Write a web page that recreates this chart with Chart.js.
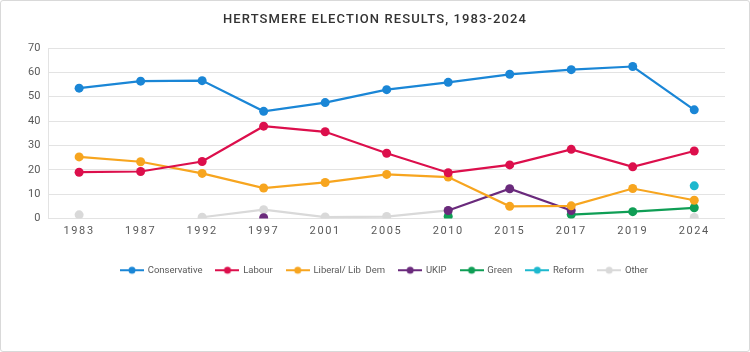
<!DOCTYPE html>
<html>
<head>
<meta charset="utf-8">
<script src="https://cdn.jsdelivr.net/npm/chart.js@4"></script>
<style>
html, body { margin: 0; padding: 0; background: #fff; }
#wrap { position: relative; width: 750px; height: 352px; box-sizing: border-box; border: 1px solid #d9d9d9; border-radius: 3px; }
#title { position: absolute; top: 10px; left: 0; right: 0; text-align: center; font: 500 13px Roboto, sans-serif; letter-spacing: 1.1px; color: #333; }
#box { position: absolute; left: 0; top: 0; right: 0; bottom: 0; }
</style>
</head>
<body>
<div id="wrap">
  <div id="box"><canvas id="chart"></canvas></div>
  <div id="title">HERTSMERE ELECTION RESULTS, 1983-2024</div>
</div>
<script>
// data (vote share, %)
const years = ["1983", "1987", "1992", "1997", "2001", "2005", "2010", "2015", "2017", "2019", "2024"];
const conservative = [53.5, 56.4, 56.6, 44.0, 47.6, 52.9, 55.9, 59.2, 61.1, 62.4, 44.6];
const labour = [19.0, 19.3, 23.4, 37.9, 35.6, 26.8, 18.8, 22.0, 28.4, 21.2, 27.7];
const libDem = [25.3, 23.3, 18.5, 12.5, 14.8, 18.1, 17.0, 5.0, 5.2, 12.3, 7.5];
const ukip = [null, null, null, 0.3, null, null, 3.3, 12.2, 3.3, null, null];
const green = [null, null, null, null, null, null, 0.8, null, 1.6, 2.8, 4.4];
const reform = [null, null, null, null, null, null, null, null, null, null, 13.4];
const other = [1.5, null, 0.5, 3.6, 0.6, 0.8, 3.3, null, null, null, 0.4];
const yTicks = [0, 10, 20, 30, 40, 50, 60, 70];

// x axis labels in the picture are letter spaced
class SpacedCategory extends Chart.CategoryScale {
    drawLabels(area) {
        this.ctx.save();
        this.ctx.letterSpacing = "1.6px";
        super.drawLabels(area);
        this.ctx.restore();
    }
}
SpacedCategory.id = "spacedCategory";
SpacedCategory.defaults = Chart.CategoryScale.defaults;
Chart.register(SpacedCategory);

// small line + dot marker for the legend
function legendMarker(color) {
    const c = document.createElement("canvas");
    c.width = 24; c.height = 10;
    const g = c.getContext("2d");
    g.strokeStyle = color; g.lineWidth = 2;
    g.beginPath(); g.moveTo(0, 5); g.lineTo(24, 5); g.stroke();
    g.fillStyle = color;
    g.beginPath(); g.arc(12, 5, 3.5, 0, Math.PI * 2); g.fill();
    return c;
}

function series(label, data, color) {
    return {
        label: label,
        data: data,
        borderColor: color,
        backgroundColor: color,
        borderWidth: 2.2,
        pointRadius: 4.5,
        pointHoverRadius: 4.5,
        pointBorderWidth: 0,
        spanGaps: false,
        tension: 0
    };
}

// the legend sits a little right of centre in the picture
const nudgeLegend = {
    id: "nudgeLegend",
    afterUpdate(chart) {
        if (chart.legend) { chart.legend.left += 12; chart.legend.right += 12; }
    }
};

const ctx = document.getElementById("chart").getContext("2d");
new Chart(ctx, {
    type: "line",
    data: {
        labels: years,
        datasets: [
            series("Conservative", conservative, "#1a86d6"),
            series("Labour", labour, "#dc0f4c"),
            series("Liberal/ Lib  Dem", libDem, "#f7a51f"),
            series("UKIP", ukip, "#6a2a7c"),
            series("Green", green, "#0f9e55"),
            series("Reform", reform, "#1db8ce"),
            series("Other", other, "#d9d9d9")
        ]
    },
    plugins: [nudgeLegend],
    options: {
        responsive: true,
        maintainAspectRatio: false,
        animation: false,
        layout: { padding: { left: 19, right: 24, top: 47, bottom: 66 } },
        scales: {
            x: {
                type: "spacedCategory",
                offset: true,
                grid: { display: false, drawTicks: false },
                border: { display: false },
                ticks: { color: "#595959", font: { family: "Roboto", size: 11 }, padding: 6 },
                afterFit: axis => { axis.height = 33; }
            },
            y: {
                min: 0,
                max: 70,
                afterBuildTicks: axis => { axis.ticks = yTicks.map(v => ({ value: v })); },
                grid: { color: "#e3e3e3", drawTicks: false },
                border: { display: true, color: "#e3e3e3" },
                ticks: { color: "#595959", font: { family: "Roboto", size: 11 }, padding: 8 }
            }
        },
        plugins: {
            legend: {
                position: "bottom",
                labels: {
                    usePointStyle: true,
                    pointStyleWidth: 22,
                    padding: 14,
                    color: "#595959",
                    font: { family: "Roboto", size: 9.5 },
                    generateLabels: chart => {
                        const items = Chart.defaults.plugins.legend.labels.generateLabels(chart);
                        items.forEach(it => { it.pointStyle = legendMarker(chart.data.datasets[it.datasetIndex].borderColor); });
                        return items;
                    }
                }
            },
            tooltip: { enabled: false }
        }
    }
});
</script>
</body>
</html>
